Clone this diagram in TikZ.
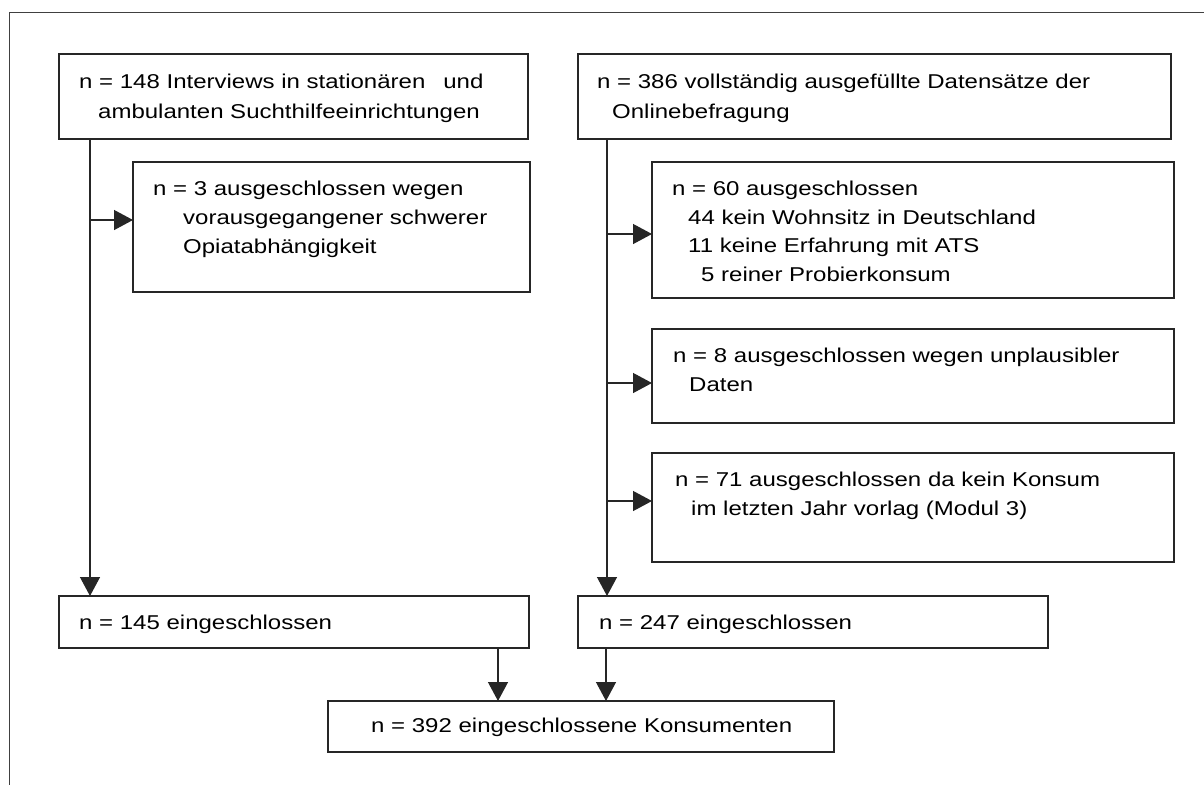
\documentclass[tikz,border=0pt]{standalone}
\usepackage{fontspec}
\setmainfont{Liberation Sans}[FakeStretch=1.2]
\usetikzlibrary{arrows.meta}
\begin{document}
\begin{tikzpicture}[x=1pt,y=-1pt,
  box/.style={draw=black!85, line width=1.3pt, rectangle, anchor=north west, inner sep=0pt, outer sep=0pt},
  txt/.style={anchor=base west, inner sep=0pt, font=\fontsize{20}{28}\selectfont, text=black},
  conn/.style={draw=black!85, line width=1.3pt},
  arr/.style={conn, -{Triangle[length=19pt,width=20pt]}, shorten >=0pt},
  frame/.style={draw=black!75, line width=1pt}]
\useasboundingbox (0,0) rectangle (1204,785);
% outer frame (top and left only)
\coordinate (f1) at (1204,12);
\coordinate (f2) at (9,12);
\coordinate (f3) at (9,785);
\draw[frame] (f1) -- (f2) -- (f3);
% boxes
\node[box, minimum width=469pt, minimum height=85pt] (A) at (59,54) {};
\node[box, minimum width=593pt, minimum height=85pt] (B) at (578,54) {};
\node[box, minimum width=397pt, minimum height=130pt] (C) at (133,162) {};
\node[box, minimum width=522pt, minimum height=136pt] (D) at (652,162) {};
\node[box, minimum width=522pt, minimum height=94pt] (E) at (652,329) {};
\node[box, minimum width=522pt, minimum height=109pt] (F) at (652,453) {};
\node[box, minimum width=470pt, minimum height=52pt] (G) at (59,596) {};
\node[box, minimum width=470pt, minimum height=52pt] (H) at (578,596) {};
\node[box, minimum width=506pt, minimum height=51pt] (I) at (328,701) {};
% texts
\node[txt] (tA1) at (79,88) {n = 148 Interviews in stationären\hspace{0.9em}und};
\node[txt] (tA2) at (98,118) {ambulanten Suchthilfeeinrichtungen};
\node[txt] (tB1) at (597,88) {n = 386 vollständig ausgefüllte Datensätze der};
\node[txt] (tB2) at (612,118) {Onlinebefragung};
\node[txt] (tC1) at (153,195) {n = 3 ausgeschlossen wegen};
\node[txt] (tC2) at (183,224) {vorausgegangener schwerer};
\node[txt] (tC3) at (183,253) {Opiatabhängigkeit};
\node[txt] (tD1) at (672,195) {n = 60 ausgeschlossen};
\node[txt] (tD2) at (688,224) {44 kein Wohnsitz in Deutschland};
\node[txt] (tD3) at (688,252) {11 keine Erfahrung mit ATS};
\node[txt] (tD4) at (701,281) {5 reiner Probierkonsum};
\node[txt] (tE1) at (673,362) {n = 8 ausgeschlossen wegen unplausibler};
\node[txt] (tE2) at (689,391) {Daten};
\node[txt] (tF1) at (675,486) {n = 71 ausgeschlossen da kein Konsum};
\node[txt] (tF2) at (691,515) {im letzten Jahr vorlag (Modul 3)};
\node[txt] (tG) at (79,629) {n = 145 eingeschlossen};
\node[txt] (tH) at (599,629) {n = 247 eingeschlossen};
\node[txt] (tI) at (371,732) {n = 392 eingeschlossene Konsumenten};
% connectors
\coordinate (la) at (90,139);
\coordinate (lc) at (90,220);
\coordinate (rb) at (607,139);
\coordinate (rd) at (607,234);
\coordinate (re) at (607,383);
\coordinate (rf) at (607,501);
\coordinate (g1) at (498,648);
\coordinate (h1) at (606,648);
\draw[arr] (la) -- (la |- G.north);
\draw[arr] (lc) -- (lc -| C.west);
\draw[arr] (rb) -- (rb |- H.north);
\draw[arr] (rd) -- (rd -| D.west);
\draw[arr] (re) -- (re -| E.west);
\draw[arr] (rf) -- (rf -| F.west);
\draw[arr] (g1) -- (g1 |- I.north);
\draw[arr] (h1) -- (h1 |- I.north);
\end{tikzpicture}
\end{document}
